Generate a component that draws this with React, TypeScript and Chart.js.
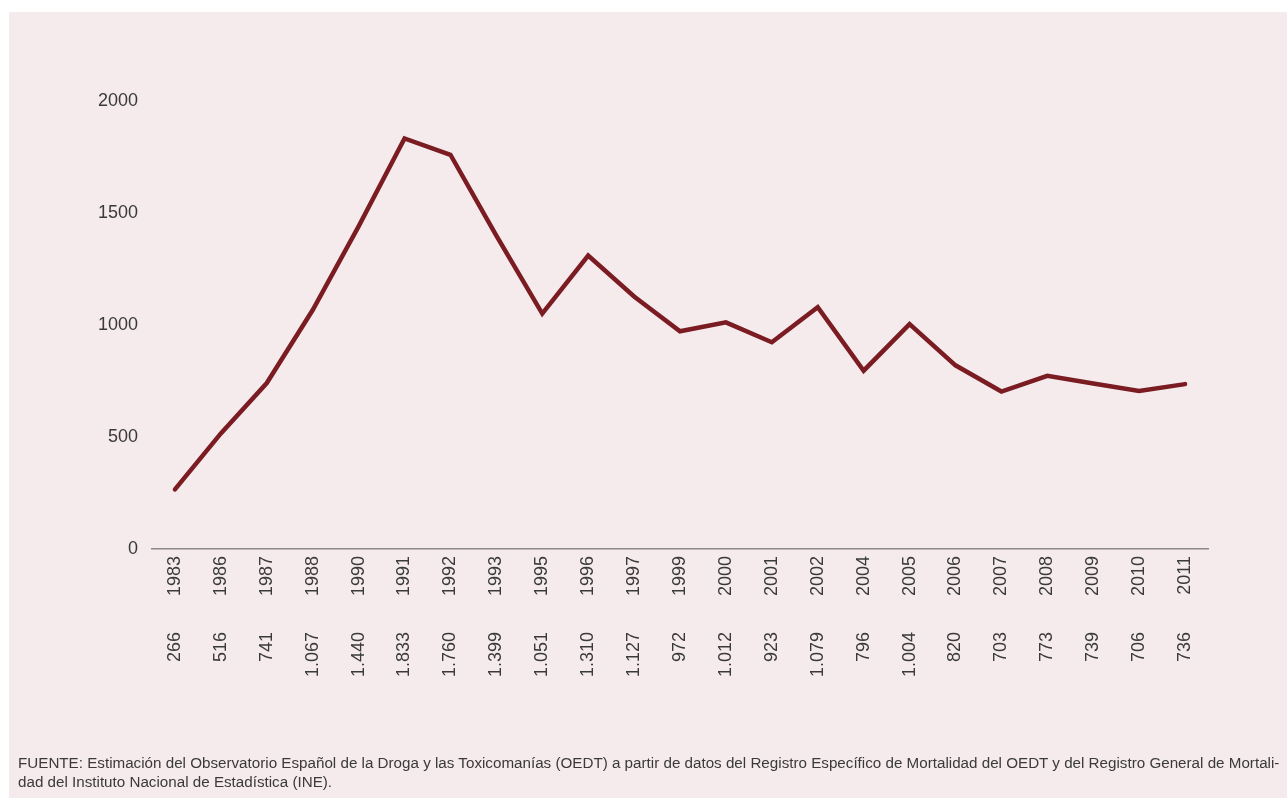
import React, { useEffect, useRef } from "react";
import { Chart, registerables } from "chart.js";

Chart.register(...registerables);

const years = ["1983","1986","1987","1988","1990","1991","1992","1993","1995","1996","1997","1999","2000","2001","2002","2004","2005","2006","2007","2008","2009","2010","2011"];
const deaths = [266,516,741,1067,1440,1833,1760,1399,1051,1310,1127,972,1012,923,1079,796,1004,820,703,773,739,706,736];
const yTicks = [0, 500, 1000, 1500, 2000];
const footnoteLines = [
  "FUENTE: Estimación del Observatorio Español de la Droga y las Toxicomanías (OEDT) a partir de datos del Registro Específico de Mortalidad del OEDT y del Registro General de Mortali-",
  "dad del Instituto Nacional de Estadística (INE).",
];

const fmt = (n: number) =>
  n >= 1000 ? `${Math.floor(n / 1000)}.${String(n % 1000).padStart(3, "0")}` : String(n);
const valueLabels = deaths.map(fmt);

const FONT = "'Liberation Sans', Arial, Helvetica, sans-serif";
const TEXT = "#3a3a3a";

export default function App() {
  const ref = useRef<HTMLCanvasElement | null>(null);
  useEffect(() => {
    if (!ref.current) return;
    const chart = new Chart(ref.current, {
      type: "line",
      data: {
        labels: years,
        datasets: [
          {
            data: deaths,
            borderColor: "#7a1c22",
            borderWidth: 4.5,
            pointRadius: 0,
            tension: 0,
            borderCapStyle: "round",
            borderJoinStyle: "miter",
            fill: false,
          },
        ],
      },
      options: {
        animation: false,
        responsive: false,
        maintainAspectRatio: false,
        layout: { padding: { top: 89, left: 78, right: 79, bottom: 118 } },
        plugins: { legend: { display: false }, tooltip: { enabled: false } },
        scales: {
          y: {
            min: 0,
            max: 2000,
            afterBuildTicks: (s: any) => {
              s.ticks = yTicks.map((v) => ({ value: v }));
            },
            afterFit: (s: any) => {
              s.width = 65;
            },
            grid: { display: false, drawTicks: false },
            border: { display: false },
            ticks: {
              padding: 14,
              color: TEXT,
              font: { family: FONT, size: 18 },
              callback: (v: any) => String(v),
            },
          },
          x: {
            type: "category",
            position: "bottom",
            offset: true,
            afterFit: (s: any) => {
              s.height = 48;
            },
            grid: { display: false, drawTicks: false },
            border: { display: true, color: "#8a8a8a", width: 1.5 },
            ticks: {
              autoSkip: false,
              minRotation: 90,
              maxRotation: 90,
              padding: 7,
              color: TEXT,
              font: { family: FONT, size: 18 },
            },
          },
          x2: {
            type: "category",
            position: "bottom",
            offset: true,
            labels: valueLabels,
            afterFit: (s: any) => {
              s.height = 83;
            },
            grid: { display: false, drawTicks: false },
            border: { display: false },
            ticks: {
              autoSkip: false,
              minRotation: 90,
              maxRotation: 90,
              padding: 35,
              color: TEXT,
              font: { family: FONT, size: 18 },
            },
          },
        },
      } as any,
    });
    return () => chart.destroy();
  }, []);

  return (
    <div
      style={{
        position: "fixed",
        left: 9,
        top: 12,
        width: 1278,
        height: 786,
        background: "#f5ebed",
      }}
    >
      <canvas ref={ref} width={1278} height={786} style={{ display: "block" }} />
      <div
        style={{
          position: "absolute",
          left: 9,
          top: 741,
          fontFamily: FONT,
          fontSize: 15.2,
          lineHeight: "19px",
          color: TEXT,
          whiteSpace: "nowrap",
        }}
      >
        {footnoteLines.map((l, i) => (
          <div key={i}>{l}</div>
        ))}
      </div>
    </div>
  );
}
